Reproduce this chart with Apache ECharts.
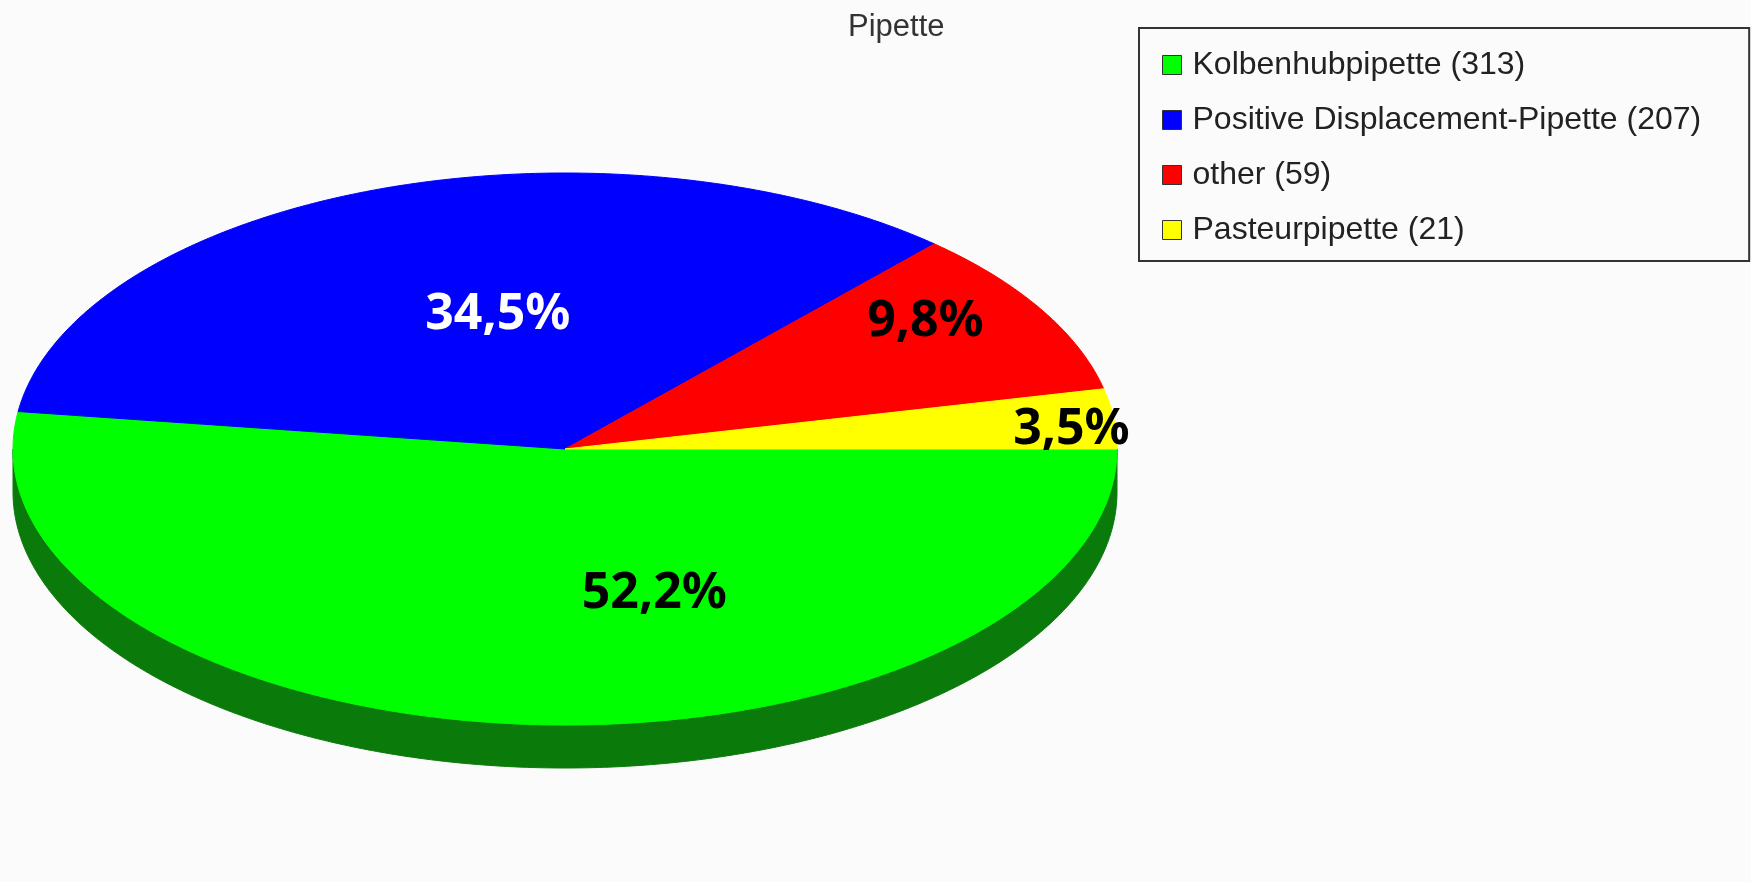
<!DOCTYPE html>
<html>
<head>
<meta charset="utf-8">
<title>Pipette</title>
<script src="https://cdn.jsdelivr.net/npm/echarts@6/dist/echarts.min.js"></script>
<style>
  html, body { margin: 0; padding: 0; background: #fafbfa; }
  #main { width: 1751px; height: 882px; }
</style>
</head>
<body>
<div id="main"></div>
<script>
// data
const categories = ['Kolbenhubpipette', 'Positive Displacement-Pipette', 'other', 'Pasteurpipette'];
const counts = [313, 207, 59, 21];

// colours (top face / side wall / label)
const sliceColors = ['#00ff00', '#0000ff', '#ff0000', '#ffff00'];
const sideColors = ['#0a7a0a', '#00007a', '#7a0000', '#7a7a00'];
const labelColors = ['#000000', '#ffffff', '#000000', '#000000'];
// label placement: angle shift from the slice middle (deg) and radius fraction
const labelShift = [-21, 6, -5, 2];
const labelRadius = [0.55, 0.5, 0.8, 0.92];

const total = counts.reduce((a, b) => a + b, 0);
const starts = [];
let acc = 0;
counts.forEach(v => { starts.push(acc); acc += v; });

// ellipse geometry (pixels)
const cx = 565, cy = 449, rx = 552, ry = 276, depth = 43;

function pt(deg, r, dy) {
  const t = deg * Math.PI / 180;
  return [cx + rx * r * Math.cos(t), cy + ry * r * Math.sin(t) + (dy || 0)];
}

function pctText(v) {
  return (v / total * 100).toFixed(1).replace('.', ',') + '%';
}

const chart = echarts.init(document.getElementById('main'));

chart.setOption({
  backgroundColor: '#fafbfa',
  color: sliceColors,
  animation: false,
  title: {
    text: 'Pipette',
    left: 843,
    top: 7,
    textStyle: {
      fontFamily: 'Liberation Sans',
      fontSize: 31,
      fontWeight: 'normal',
      color: '#333'
    }
  },
  legend: {
    orient: 'vertical',
    left: 1139,
    top: 28,
    padding: [21, 48, 15, 23],
    borderColor: '#333',
    borderWidth: 2,
    backgroundColor: '#fafbfa',
    itemGap: 23,
    itemWidth: 19,
    itemHeight: 19,
    icon: 'rect',
    selectedMode: false,
    itemStyle: { borderColor: '#333', borderWidth: 1 },
    textStyle: {
      fontFamily: 'Liberation Sans',
      fontSize: 32,
      lineHeight: 32,
      color: '#222',
      padding: [0, 0, 0, 6]
    },
    formatter: function (name) {
      return name + ' (' + counts[categories.indexOf(name)] + ')';
    },
    data: categories
  },
  series: [
    {
      // only feeds the legend
      type: 'pie',
      radius: [0, 0],
      center: [-100, -100],
      silent: true,
      label: { show: false },
      labelLine: { show: false },
      data: categories.map((c, i) => ({ name: c, value: counts[i] }))
    },
    {
      type: 'custom',
      coordinateSystem: 'none',
      data: counts,
      renderItem: function (params, api) {
        const i = params.dataIndex;
        const v = api.value(0);
        const a0 = starts[i] / total * 360;
        const a1 = a0 + v / total * 360;
        const step = 0.5;
        const children = [];

        // side wall for the front half (0..180 deg)
        const s0 = Math.max(a0, 0), s1 = Math.min(a1, 180);
        if (s1 > s0) {
          const side = [];
          for (let a = s0; a < s1; a += step) side.push(pt(a, 1));
          side.push(pt(s1, 1));
          for (let a = s1; a > s0; a -= step) side.push(pt(a, 1, depth));
          side.push(pt(s0, 1, depth));
          children.push({
            type: 'polygon',
            shape: { points: side },
            style: { fill: sideColors[i], stroke: sideColors[i], lineWidth: 1 }
          });
        }

        // top face
        const top = [[cx, cy]];
        for (let a = a0; a < a1; a += step) top.push(pt(a, 1));
        top.push(pt(a1, 1));
        children.push({
          type: 'polygon',
          shape: { points: top },
          style: { fill: sliceColors[i], stroke: sliceColors[i], lineWidth: 1 }
        });

        // percent label
        const lp = pt((a0 + a1) / 2 + labelShift[i], labelRadius[i]);
        children.push({
          type: 'text',
          z2: 100,
          x: lp[0],
          y: lp[1],
          style: {
            text: pctText(v),
            fill: labelColors[i],
            font: 'bold 50px "Noto Sans", "Open Sans", sans-serif',
            align: 'center',
            verticalAlign: 'middle'
          }
        });

        return { type: 'group', children: children };
      }
    }
  ]
});
</script>
</body>
</html>
